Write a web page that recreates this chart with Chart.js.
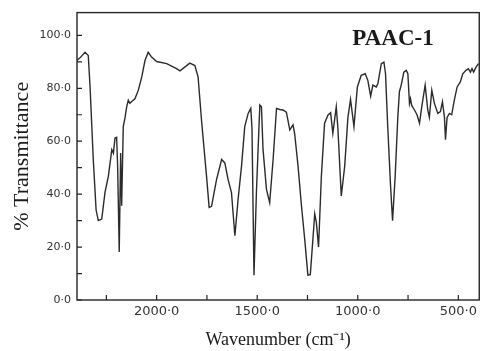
<!DOCTYPE html>
<html>
<head>
<meta charset="utf-8">
<script src="https://cdn.jsdelivr.net/npm/chart.js@4/dist/chart.umd.min.js"></script>
<style>
  html, body { margin: 0; padding: 0; background: #ffffff; }
  #wrap { width: 481px; height: 351px; }
</style>
</head>
<body>
<div id="wrap"><canvas id="c" width="481" height="351"></canvas></div>
<script>
// ---- Data ----
const sampleName = "PAAC-1";
const wavenumbers = [
  2397, 2381, 2356, 2340, 2331, 2315, 2301, 2290, 2273, 2257, 2240, 2223, 2215, 2207,
  2199, 2194, 2186, 2179, 2174, 2166, 2157, 2149, 2141, 2133, 2124, 2108, 2091, 2074,
  2058, 2042, 2025, 2000, 1950, 1901, 1884, 1835, 1810, 1794, 1777, 1752, 1739, 1727,
  1702, 1677, 1661, 1645, 1628, 1611, 1595, 1578, 1562, 1545, 1532, 1526, 1516, 1504,
  1487, 1479, 1471, 1454, 1438, 1421, 1404, 1388, 1372, 1355, 1338, 1322, 1314, 1297,
  1280, 1264, 1248, 1236, 1223, 1214, 1206, 1195, 1181, 1165, 1148, 1135, 1124, 1107,
  1099, 1082, 1065, 1049, 1036, 1019, 1002, 983, 963, 950, 936, 925, 908, 900,
  883, 870, 862, 851, 837, 827, 814, 801, 793, 784, 771, 759, 751, 743,
  738, 732, 718, 705, 693, 682, 665, 652, 644, 632, 619, 602, 589, 579,
  569, 564, 556, 544, 533, 520, 506, 490, 478, 462, 450, 440, 432, 424,
  412, 400
];
const transmittance = [
  90.5, 91.5, 93.6, 92.4, 80.5, 53.0, 34.0, 30.0, 30.6, 40.6, 46.8, 56.8, 55.5, 61.2,
  61.5, 50.6, 18.1, 55.5, 35.6, 65.5, 69.0, 73.0, 75.5, 74.3, 75.0, 76.0, 79.3, 84.3,
  90.5, 93.6, 91.8, 90.1, 89.3, 87.4, 86.6, 89.5, 88.6, 84.3, 68.0, 46.8, 35.0, 35.4,
  45.6, 53.1, 51.8, 45.6, 40.6, 24.3, 38.1, 50.6, 65.5, 70.5, 72.4, 65.0, 9.4, 40.6,
  73.7, 73.0, 56.8, 41.8, 36.8, 53.1, 72.4, 72.0, 71.8, 71.0, 64.3, 66.2, 63.0, 50.6,
  35.6, 23.1, 9.4, 9.6, 23.1, 32.5, 29.3, 20.0, 46.8, 66.8, 69.9, 70.8, 63.0, 73.0,
  65.0, 39.3, 50.6, 69.0, 75.8, 65.5, 80.5, 84.9, 85.5, 83.0, 77.0, 81.2, 80.5, 81.8,
  89.3, 89.9, 85.5, 65.5, 43.1, 30.0, 46.8, 69.0, 78.7, 81.2, 86.1, 86.8, 85.5, 74.3,
  76.1, 73.5, 71.8, 69.9, 66.8, 73.0, 81.2, 71.8, 69.0, 79.3, 74.3, 70.5, 71.2, 74.9,
  69.0, 60.6, 69.0, 70.5, 70.0, 75.5, 80.5, 82.4, 85.5, 86.8, 87.4, 86.1, 87.4, 86.1,
  88.0, 89.3
];
const xMajorTicks = [2000, 1500, 1000, 500];
const xMinorTicks = [2250, 1750, 1250, 750];
const yMajorTicks = [0, 20, 40, 60, 80, 100];
const yMinorTicks = [10, 30, 50, 70, 90];
const xTitle = "Wavenumber (cm\u207B\u00B9)";
const yTitle = "% Transmittance";

// ---- Chart ----
const points = wavenumbers.map((w, i) => ({ x: w, y: transmittance[i] }));
const fmt = v => Number(v).toFixed(1).replace('.', '\u00B7');
const ink = '#262626';

const framePlugin = {
  id: 'frameAndTicks',
  afterDraw(chart) {
    const { ctx, chartArea: a, scales } = chart;
    ctx.save();
    ctx.strokeStyle = ink;
    ctx.lineWidth = 1.4;
    ctx.strokeRect(a.left, a.top, a.right - a.left, a.bottom - a.top);
    ctx.lineWidth = 1.2;
    ctx.beginPath();
    [...xMajorTicks, ...xMinorTicks].forEach(v => {
      const px = scales.x.getPixelForValue(v);
      ctx.moveTo(px, a.bottom);
      ctx.lineTo(px, a.bottom - 5);
    });
    [...yMajorTicks, ...yMinorTicks].forEach(v => {
      const py = scales.y.getPixelForValue(v);
      ctx.moveTo(a.left, py);
      ctx.lineTo(a.left + 5, py);
    });
    ctx.stroke();
    // sample label
    ctx.fillStyle = '#1a1a1a';
    ctx.font = 'bold 23px "Liberation Serif", "Times New Roman", serif';
    ctx.textAlign = 'center';
    ctx.textBaseline = 'alphabetic';
    ctx.fillText(sampleName, 393, 45);
    ctx.restore();
  }
};

new Chart(document.getElementById('c'), {
  type: 'line',
  data: {
    datasets: [{
      data: points,
      borderColor: '#2b2b2b',
      borderWidth: 1.4,
      pointRadius: 0,
      tension: 0,
      fill: false
    }]
  },
  options: {
    responsive: false,
    animation: false,
    events: [],
    layout: { padding: { top: 10, right: 1, left: 0, bottom: 0 } },
    plugins: { legend: { display: false }, tooltip: { enabled: false } },
    scales: {
      x: {
        type: 'linear',
        reverse: true,
        min: 396,
        max: 2396,
        afterBuildTicks: s => { s.ticks = xMajorTicks.map(v => ({ value: v })); },
        afterFit: s => { s.height = 51; },
        grid: { display: false, drawTicks: false },
        border: { display: false },
        ticks: {
          callback: v => fmt(v),
          font: { family: '"DejaVu Sans", sans-serif', size: 13 },
          color: '#333333',
          padding: 4,
          maxRotation: 0,
          autoSkip: false
        },
        title: {
          display: true,
          text: xTitle,
          font: { family: '"Liberation Serif", "Times New Roman", serif', size: 18 },
          color: '#1a1a1a',
          padding: { top: 0, bottom: 0 }
        }
      },
      y: {
        type: 'linear',
        min: 0,
        max: 108.6,
        afterBuildTicks: s => { s.ticks = yMajorTicks.map(v => ({ value: v })); },
        afterFit: s => { s.width = 77; },
        grid: { display: false, drawTicks: false },
        border: { display: false },
        ticks: {
          callback: v => fmt(v),
          font: { family: '"DejaVu Sans", sans-serif', size: 11 },
          color: '#333333',
          padding: 6
        },
        title: {
          display: true,
          text: yTitle,
          font: { family: '"Liberation Serif", "Times New Roman", serif', size: 22 },
          color: '#1a1a1a',
          padding: { top: 9, bottom: 0 }
        }
      }
    }
  },
  plugins: [framePlugin]
});
</script>
</body>
</html>
